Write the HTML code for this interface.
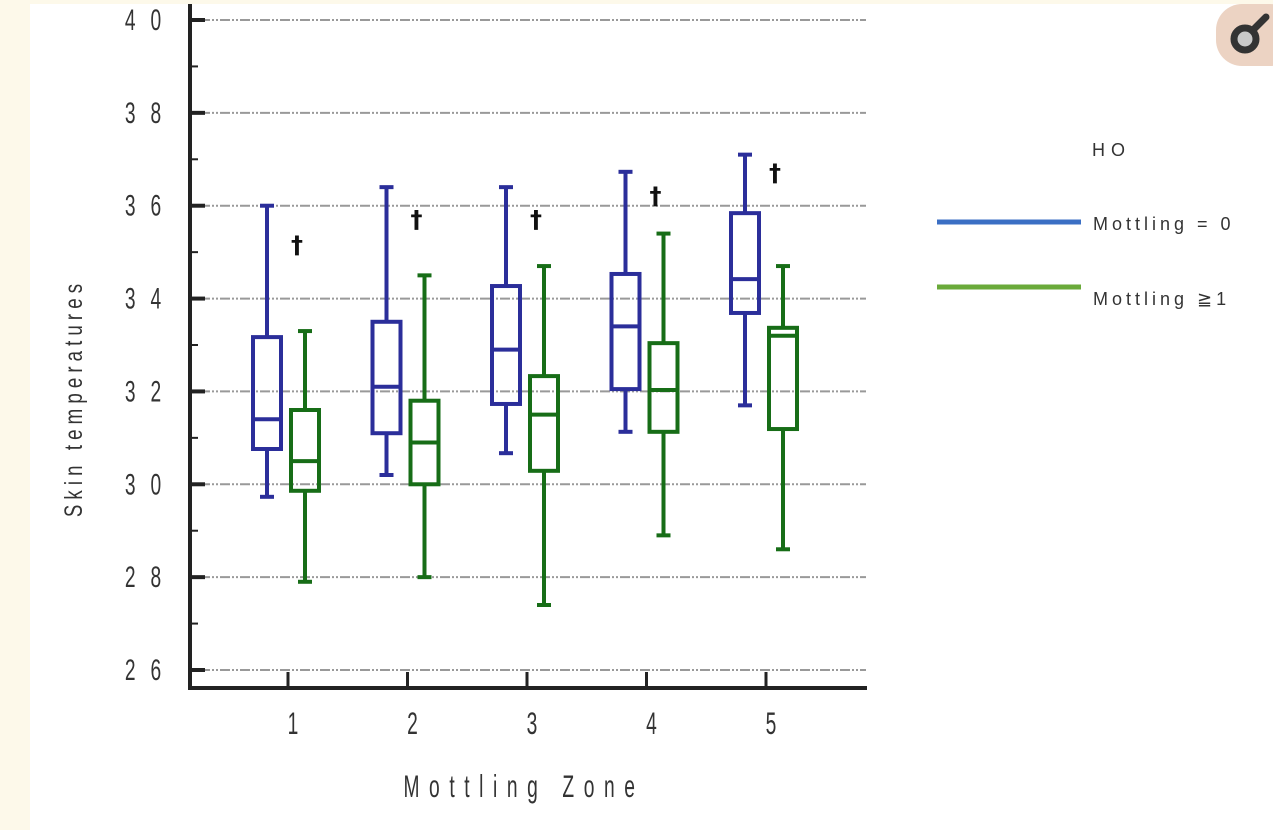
<!DOCTYPE html>
<html><head><meta charset="utf-8"><style>
html,body{margin:0;padding:0;}
body{width:1273px;height:830px;background:#fdf9ea;position:relative;overflow:hidden;font-family:"Liberation Sans",sans-serif;}
#panel{position:absolute;left:30px;top:4px;width:1243px;height:826px;background:#fff;}
svg{position:absolute;left:0;top:0;}
</style></head><body>
<div id="panel"></div>
<svg id="chart" width="1273" height="830">
  <g id="grid"></g>
  <g id="axes"></g>
  <g id="boxes"></g>
  <text x="0" y="0" transform="translate(82 398) rotate(-90) scale(0.85 1.15)" text-anchor="middle" font-size="22" letter-spacing="6" fill="#333">Skin temperatures</text>
  <text x="0" y="0" transform="translate(524 797) scale(0.8 1.3)" text-anchor="middle" font-size="24" letter-spacing="12" fill="#333">Mottling Zone</text>
  <g>
    <text x="1092" y="156" font-size="18" letter-spacing="6" fill="#333">HO</text>
    <line x1="937" y1="222" x2="1081" y2="222" stroke="#3b6fc4" stroke-width="5"/>
    <text x="1093" y="230" font-size="18" letter-spacing="4" fill="#333">Mottling = 0</text>
    <line x1="937" y1="287" x2="1081" y2="287" stroke="#6aaa3a" stroke-width="5"/>
    <text x="1093" y="305" font-size="18" letter-spacing="4" fill="#333">Mottling ≧1</text>
  </g>
  <g>
    <rect x="1216" y="4" width="80" height="62" rx="26" fill="#ecd3c3"/>
    <circle cx="1245" cy="39" r="11" fill="#c9c9c9" stroke="#333" stroke-width="7"/>
    <line x1="1253" y1="30" x2="1266" y2="17" stroke="#333" stroke-width="7" stroke-linecap="round"/>
  </g>
</svg>
<script>
const zones = ["1","2","3","4","5"];
const blueWhiskerHigh = [36.0, 36.4, 36.4, 36.73, 37.1];
const blueQ3 = [33.17, 33.5, 34.27, 34.53, 35.84];
const blueMedian = [31.4, 32.1, 32.9, 33.4, 34.42];
const blueQ1 = [30.76, 31.1, 31.73, 32.05, 33.69];
const blueWhiskerLow = [29.73, 30.2, 30.67, 31.13, 31.7];
const greenWhiskerHigh = [33.3, 34.5, 34.7, 35.4, 34.7];
const greenQ3 = [31.6, 31.8, 32.33, 33.04, 33.37];
const greenMedian = [30.5, 30.9, 31.5, 32.03, 33.2];
const greenQ1 = [29.86, 30.0, 30.29, 31.13, 31.19];
const greenWhiskerLow = [27.9, 28.0, 27.4, 28.9, 28.6];
const daggerValues = [35.2, 35.75, 35.75, 36.25, 36.75];
const yTicks = [26, 28, 30, 32, 34, 36, 38, 40];
const yTickLabels = ["2 6","2 8","3 0","3 2","3 4","3 6","3 8","4 0"];

const NS = "http://www.w3.org/2000/svg";
const yScale = v => 670 - (v - 26) * (650 / 14);
const xScale = i => 288 + i * 119.5;
function mk(tag, attrs, parent){const e=document.createElementNS(NS,tag);for(const k in attrs)e.setAttribute(k,attrs[k]);parent.appendChild(e);return e;}
const grid=document.getElementById('grid'), axes=document.getElementById('axes'), boxes=document.getElementById('boxes');

yTicks.forEach((t,i)=>{
  const y=yScale(t);
  const g=mk('line',{x1:200,y1:y,x2:866,y2:y,stroke:'#999','stroke-width':2,'stroke-dasharray':'10 2 2 2 2 2'},grid);
  
  
  const tk=mk('line',{x1:190,y1:y,x2:205,y2:y,stroke:'#222','stroke-width':4},axes);
  
  
  if(i<yTicks.length-1){const ym=yScale(t+1);mk('line',{x1:190,y1:ym,x2:198,y2:ym,stroke:'#222','stroke-width':2},axes);}
  const lb=mk('text',{x:0,y:0,transform:'translate(166 '+(y+10)+') scale(0.8 1.25)','text-anchor':'end','font-size':24,fill:'#333','letter-spacing':6},axes);
  lb.textContent=yTickLabels[i];
  
  
});
const ya=mk('line',{x1:190,y1:4,x2:190,y2:690,stroke:'#222','stroke-width':4},axes);


const xa=mk('line',{x1:188,y1:688,x2:867,y2:688,stroke:'#222','stroke-width':4},axes);



zones.forEach((z,i)=>{
  const cx=xScale(i);
  const t=mk('line',{x1:cx,y1:672,x2:cx,y2:688,stroke:'#222','stroke-width':3},axes);
  
  
  const l=mk('text',{x:0,y:0,transform:'translate('+(cx+5)+' 734) scale(0.8 1.3)','text-anchor':'middle','font-size':24,fill:'#333'},axes);
  l.textContent=z;
  
  
  const sets=[['blue','#2b2e9a',-21,blueWhiskerHigh,blueQ3,blueMedian,blueQ1,blueWhiskerLow],
              ['green','#176d17',17,greenWhiskerHigh,greenQ3,greenMedian,greenQ1,greenWhiskerLow]];
  sets.forEach(s=>{
    const c=cx+s[2], col=s[1];
    const g=mk('g',{stroke:col,'stroke-width':4,fill:'none'},boxes);
    
    
    const hi=yScale(s[3][i]),q3=yScale(s[4][i]),md=yScale(s[5][i]),q1=yScale(s[6][i]),lo=yScale(s[7][i]);
    mk('line',{x1:c,y1:hi,x2:c,y2:q3},g);
    mk('line',{x1:c,y1:q1,x2:c,y2:lo},g);
    mk('line',{x1:c-7,y1:hi,x2:c+7,y2:hi},g);
    mk('line',{x1:c-7,y1:lo,x2:c+7,y2:lo},g);
    mk('rect',{x:c-14,y:q3,width:28,height:q1-q3},g);
    mk('line',{x1:c-14,y1:md,x2:c+14,y2:md},g);
  });
  const d=mk('text',{x:cx+9,y:yScale(daggerValues[i])+10,'text-anchor':'middle','font-size':24,'font-weight':'bold',fill:'#111','font-family':'DejaVu Sans, sans-serif'},boxes);
  d.textContent='†';
  
  
});
</script>
</body></html>
